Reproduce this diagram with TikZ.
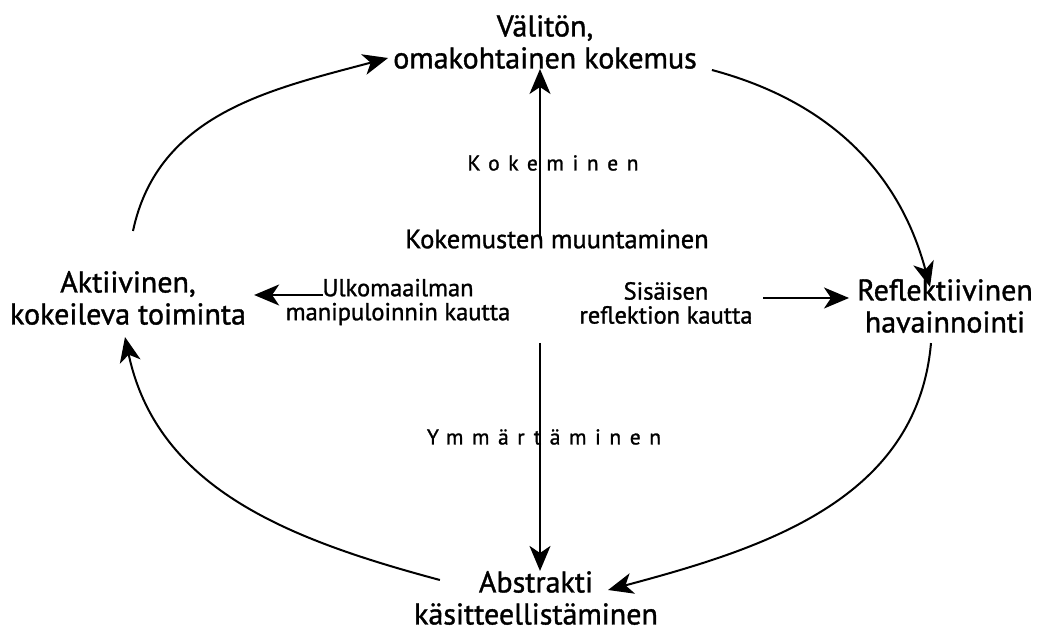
\documentclass[tikz,border=0pt]{standalone}
\usepackage{fontspec}
\setmainfont{PT Sans}[FakeBold=1.2]
\usetikzlibrary{arrows.meta}
\begin{document}
\begin{tikzpicture}[x=1pt,y=1pt,
  mainlbl/.style={align=center, inner sep=0pt, font=\fontsize{30}{32}\selectfont},
  sublbl/.style={align=center, inner sep=0pt, font=\fontsize{24.5}{24}\selectfont},
  spacedlbl/.style={inner sep=0pt, font=\fontsize{21.5}{24}\selectfont\addfontfeatures{LetterSpace=40}},
  arr/.style={line width=2pt, -{Stealth[length=25pt,width=21pt,inset=7pt]}},
  ]
\useasboundingbox (0,0) rectangle (1042,632);
% main nodes
\node[mainlbl] (top) at (545,590) {Välitön,\\omakohtainen kokemus};
\node[mainlbl] (right) at (945,326) {Reflektiivinen\\havainnointi};
\node[mainlbl] (bot) at (536,34) {Abstrakti\\käsitteellistäminen};
\node[mainlbl] (left) at (128,334) {Aktiivinen,\\kokeileva toiminta};
% inner labels
\node[spacedlbl] (kok) at (553,469) {Kokeminen};
\node[sublbl, font=\fontsize{26.5}{24}\selectfont] (muunt) at (557,393) {Kokemusten muuntaminen};
\node[sublbl] (ulko) at (398,330) {Ulkomaailman\\manipuloinnin kautta};
\node[sublbl] (sis) at (666,329) {Sisäisen\\reflektion kautta};
\node[spacedlbl] (ymm) at (544,195) {Ymmärtäminen};
% helper coordinates
\coordinate (ax) at (540,0);
\coordinate (dstart) at (540,289);
\coordinate (ulkoA) at (323,337);
\coordinate (sisA) at (763,334);
% inner arrows
\draw[arr, shorten <=-10pt] (muunt.north -| ax) -- (top.south -| ax);
\draw[arr] (dstart) -- (bot.north -| ax);
\draw[arr, shorten >=8pt] (ulkoA) -- (left.east |- ulkoA);
\draw[arr, shorten >=8pt] (sisA) -- (right.west |- sisA);
% cycle
\draw[arr] ([shift={(5,40)}]left.north) to[out=78, in=195] ([xshift=-5pt,yshift=-16pt]top.west);
\draw[arr] ([xshift=15pt,yshift=-28pt]top.east) to[out=-15, in=105] ([xshift=-15pt,yshift=-8pt]right.north);
\draw[arr] ([xshift=-14pt,yshift=-10pt]right.south) to[out=-95, in=15] ([xshift=-50pt,yshift=8pt]bot.east);
\draw[arr] ([xshift=26pt,yshift=18pt]bot.west) to[out=165, in=-78] ([xshift=-3pt,yshift=-12pt]left.south);
\end{tikzpicture}
\end{document}
